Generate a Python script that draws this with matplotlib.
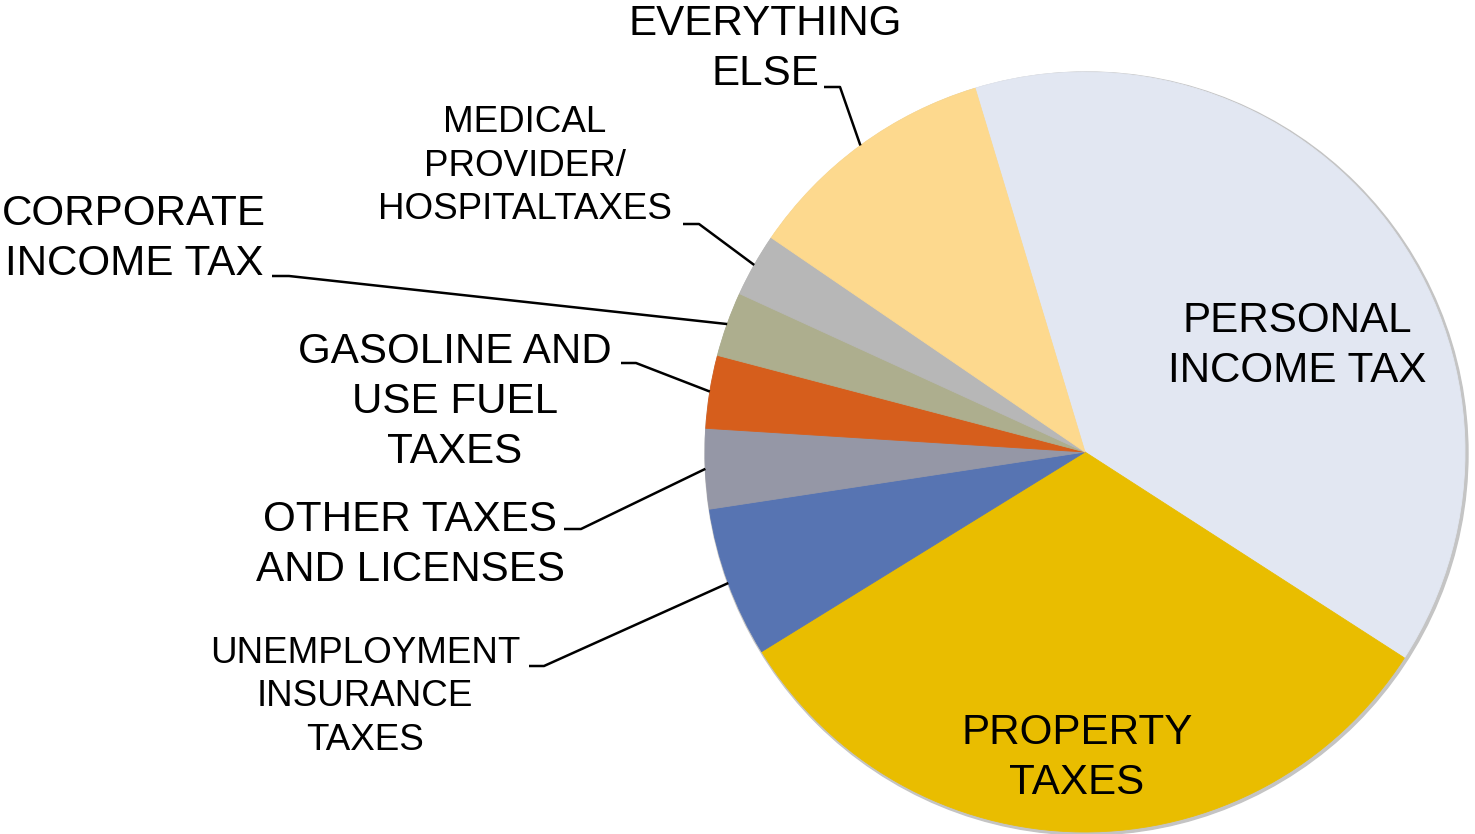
import matplotlib.pyplot as plt
import numpy as np

# Revenue shares (percent), clockwise from the top
categories = ["PERSONAL\nINCOME TAX", "PROPERTY\nTAXES", "UNEMPLOYMENT\nINSURANCE\nTAXES",
              "OTHER TAXES\nAND LICENSES", "GASOLINE AND\nUSE FUEL\nTAXES",
              "CORPORATE\nINCOME TAX", "MEDICAL\nPROVIDER/\nHOSPITALTAXES",
              "EVERYTHING\nELSE"]
shares = [38.8, 32.1, 6.4, 3.4, 3.1, 2.75, 2.7, 10.8]
colors = ["#E2E7F2", "#E9BD00", "#5774B2", "#9597A6", "#D65E1C",
          "#ADAE8E", "#B7B7B7", "#FDD98E"]

plt.rcParams['font.family'] = ['Liberation Sans', 'DejaVu Sans']

W, H = 1475, 834
fig = plt.figure(figsize=(W / 100, H / 100), dpi=100)
ax = fig.add_axes([0, 0, 1, 1])

cx, cy, R = 1085, H - 452, 380

# faint drop shadow around the rim
ax.add_patch(plt.Circle((cx + 1.5, cy - 1.5), R + 1.5, color="#c4c4c4", zorder=0))

wedges, _ = ax.pie(shares, colors=colors, startangle=106.8, counterclock=False,
                   radius=R, center=(cx, cy),
                   wedgeprops=dict(linewidth=0.6))
for w, c in zip(wedges, colors):
    w.set_edgecolor(c)

# outside labels: (text centre, elbow point, end of short horizontal tick, fontsize)
outside = {
    2: ((365, H - 697), (544, H - 666), (529, H - 666), 26.5),
    3: ((410, H - 545), (581, H - 529), (564, H - 529), 30.3),
    4: ((455, H - 402), (636, H - 363), (621, H - 363), 30.3),
    5: ((134, H - 239), (289, H - 276), (272, H - 276), 30.3),
    6: ((525, H - 166), (699, H - 224), (683, H - 224), 26.5),
    7: ((765, H - 49), (840, H - 87), (824, H - 87), 30.3),
}

for i, (txt_xy, elbow, tick, fs) in outside.items():
    w = wedges[i]
    mid = np.deg2rad((w.theta1 + w.theta2) / 2)
    ex, ey = cx + R * np.cos(mid), cy + R * np.sin(mid)
    ax.plot([ex, elbow[0], tick[0]], [ey, elbow[1], tick[1]],
            color="black", linewidth=1.8, solid_capstyle="butt", zorder=3)
    ax.text(txt_xy[0], txt_xy[1], categories[i], ha="center", va="center",
            fontsize=fs, linespacing=1.33, color="black")

# inside labels
ax.text(1297, H - 346, categories[0], ha="center", va="center",
        fontsize=30.3, linespacing=1.33, color="black")
ax.text(1077, H - 758, categories[1], ha="center", va="center",
        fontsize=30.3, linespacing=1.33, color="black")

ax.set_xlim(0, W)
ax.set_ylim(0, H)
ax.set_aspect("equal")
ax.axis("off")

fig.savefig("out.png", dpi=100, facecolor="white")
